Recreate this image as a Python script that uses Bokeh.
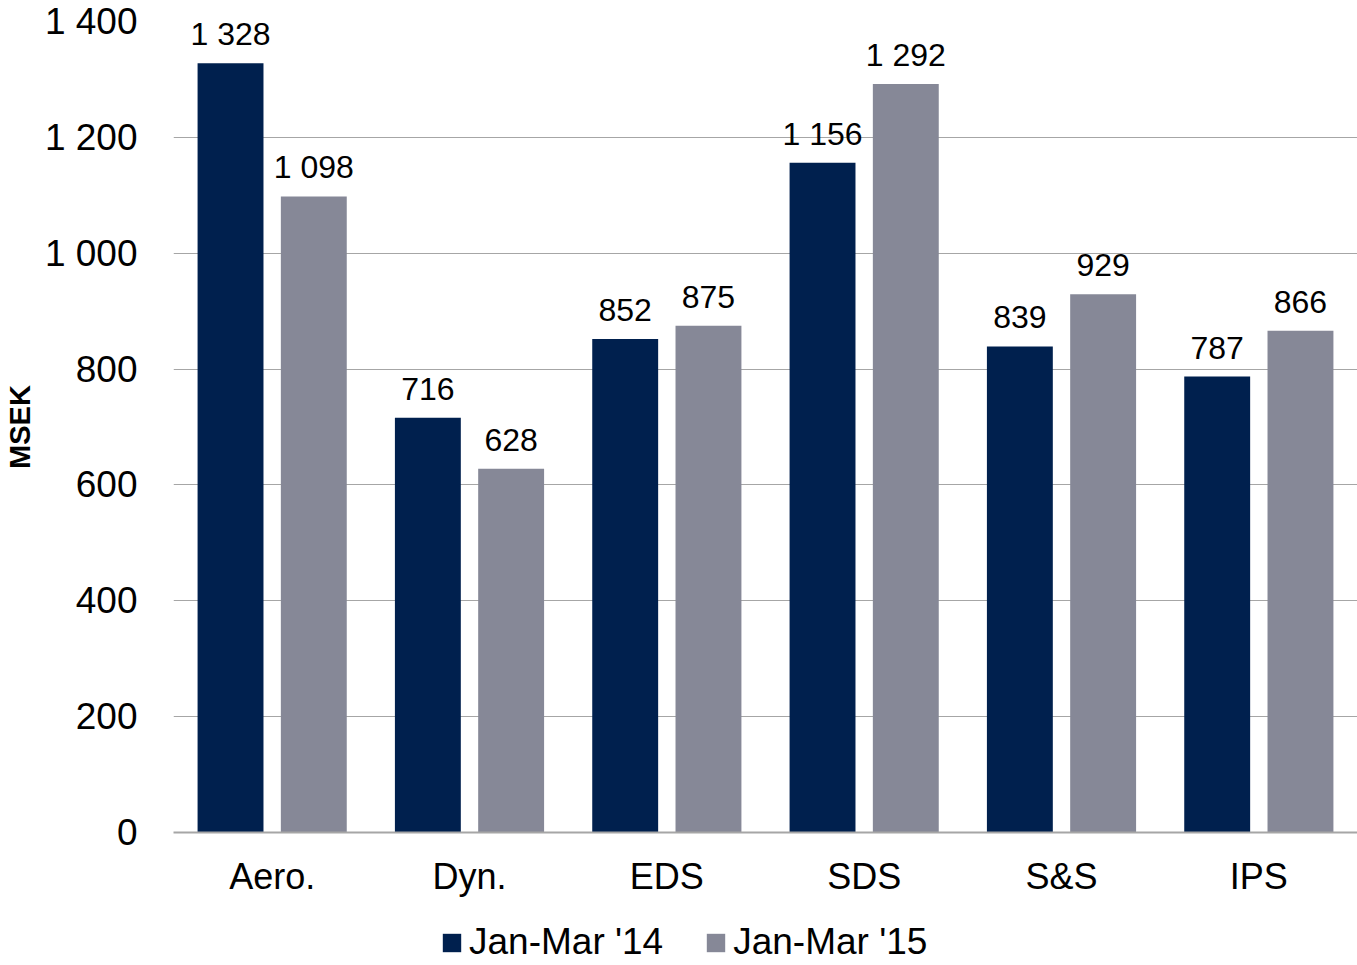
from bokeh.plotting import figure
from bokeh.layouts import column
from bokeh.models import ColumnDataSource, FactorRange, Range1d, Legend, LegendItem, SingleIntervalTicker, CustomJSTickFormatter
from bokeh.transform import dodge
from bokeh.core.properties import value
from bokeh.embed import file_html
from bokeh.resources import INLINE

# Operating income per business area, MSEK
segments = ["Aero.", "Dyn.", "EDS", "SDS", "S&S", "IPS"]
q1_2014 = [1328, 716, 852, 1156, 839, 787]
q1_2015 = [1098, 628, 875, 1292, 929, 866]
series_names = ["Jan-Mar '14", "Jan-Mar '15"]

DARK = "#00204E"
GREY = "#868897"
FONT = "Liberation Sans"


def fmt(v):
    # thousands separated by a space
    return f"{v:,}".replace(",", " ")


src = ColumnDataSource(data=dict(
    seg=segments,
    a=q1_2014,
    b=q1_2015,
    a_txt=[fmt(v) for v in q1_2014],
    b_txt=[fmt(v) for v in q1_2015],
))

p = figure(
    x_range=FactorRange(*segments, range_padding=0),
    y_range=Range1d(0, 1400),
    width=1357, height=910,
    min_border_left=172, min_border_right=0,
    min_border_top=21, min_border_bottom=78,
    output_backend="svg", toolbar_location=None,
)
p.outline_line_color = None
p.background_fill_color = "white"
p.border_fill_color = "white"

off = 0.211
w = 0.334
p.vbar(x=dodge("seg", -off, range=p.x_range), top="a", width=w, source=src,
       fill_color=DARK, line_color=None)
p.vbar(x=dodge("seg", off, range=p.x_range), top="b", width=w, source=src,
       fill_color=GREY, line_color=None)

for col, txt, dx in (("a", "a_txt", -off), ("b", "b_txt", off)):
    p.text(x=dodge("seg", dx, range=p.x_range), y=col, text=txt, source=src,
           text_align="center", text_baseline="alphabetic", y_offset=-29,
           text_font=value(FONT), text_font_size="32px", text_color="black")

# y axis
p.yaxis.ticker = SingleIntervalTicker(interval=200)
p.yaxis.formatter = CustomJSTickFormatter(code="return tick.toString().replace(/\\B(?=(\\d{3})+(?!\\d))/g, ' ');")
p.yaxis.axis_line_color = None
p.yaxis.major_tick_line_color = None
p.yaxis.minor_tick_line_color = None
p.yaxis.major_label_standoff = 30
p.yaxis.major_label_text_font = FONT
p.yaxis.major_label_text_font_size = "37px"
p.yaxis.major_label_text_color = "black"
p.yaxis.axis_label = "MSEK"
p.yaxis.axis_label_text_font = FONT
p.yaxis.axis_label_text_font_size = "29px"
p.yaxis.axis_label_text_font_style = "bold"
p.yaxis.axis_label_text_color = "black"
p.yaxis.axis_label_standoff = 6

# x axis
p.xaxis.axis_line_color = "#A6A6A6"
p.xaxis.axis_line_width = 2
p.xaxis.major_tick_line_color = None
p.xaxis.minor_tick_line_color = None
p.xaxis.major_label_standoff = 17
p.xaxis.major_label_text_font = FONT
p.xaxis.major_label_text_font_size = "36px"
p.xaxis.major_label_text_color = "black"

p.xgrid.grid_line_color = None
p.ygrid.grid_line_color = "#A6A6A6"
p.ygrid.grid_line_width = 1

# legend strip under the chart (its key bars sit outside the visible range)
leg = figure(
    width=1357, height=55,
    x_range=Range1d(0, 1), y_range=Range1d(0, 1),
    min_border=0, output_backend="svg", toolbar_location=None,
)
leg.outline_line_color = None
leg.axis.visible = False
leg.grid.visible = False
k1 = leg.vbar(x=[-10], top=[0], width=0.1, fill_color=DARK, line_color=None)
k2 = leg.vbar(x=[-10], top=[0], width=0.1, fill_color=GREY, line_color=None)
legend = Legend(
    items=[LegendItem(label=series_names[0], renderers=[k1]),
           LegendItem(label=series_names[1], renderers=[k2])],
    orientation="horizontal",
    location=(439 - 172, 2),
    glyph_width=23, glyph_height=23,
    label_standoff=6, spacing=41, padding=0, margin=0,
    label_text_font=FONT, label_text_font_size="37px", label_text_color="black",
    border_line_color=None, background_fill_alpha=0,
)
leg.add_layout(legend, "center")

open("out.html", "w").write(file_html(column(p, leg, spacing=0), INLINE))
